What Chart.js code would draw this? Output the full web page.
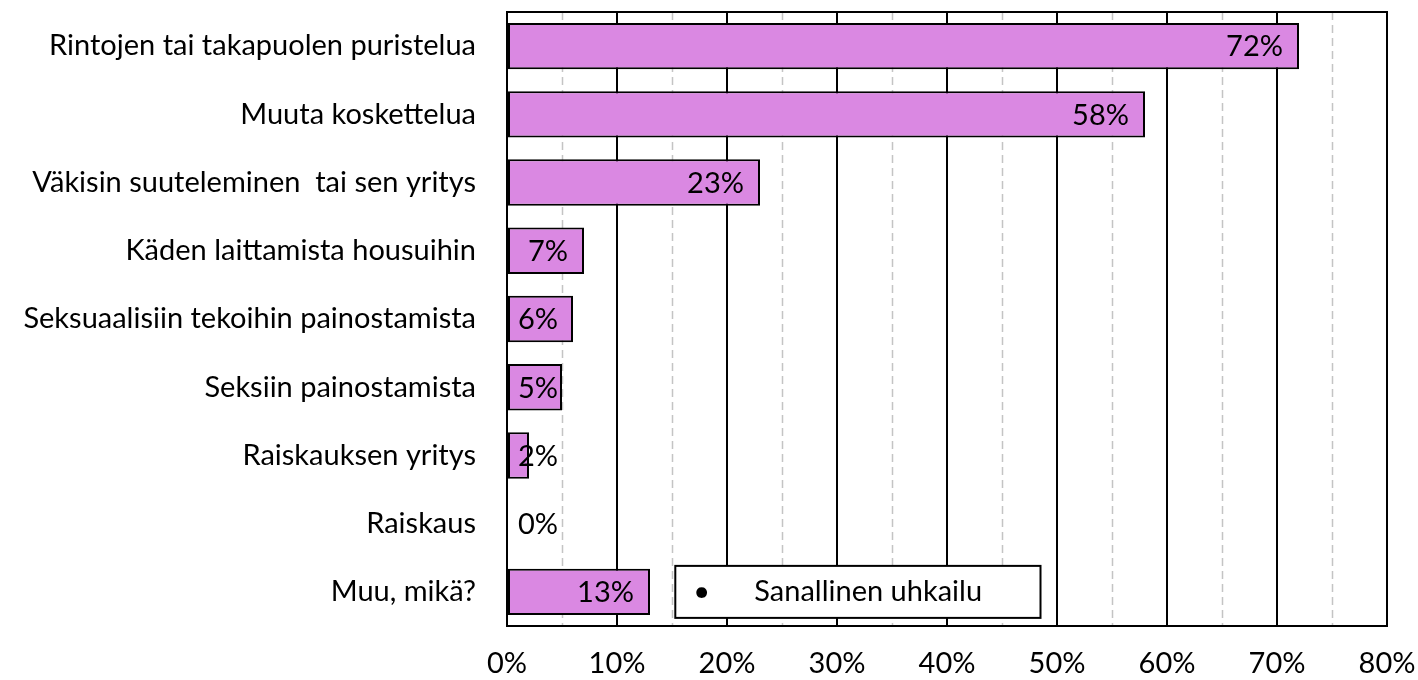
<!DOCTYPE html>
<html>
<head>
<meta charset="utf-8">
<script src="https://cdn.jsdelivr.net/npm/chart.js@4/dist/chart.umd.min.js"></script>
<style>
  html, body { margin: 0; padding: 0; background: #fff; }
  #wrap { width: 1418px; height: 680px; }
</style>
</head>
<body>
<div id="wrap"><canvas id="barChart"></canvas></div>
<script>
// data
const categories = [
    'Rintojen tai takapuolen puristelua',
    'Muuta koskettelua',
    'Väkisin suuteleminen  tai sen yritys',
    'Käden laittamista housuihin',
    'Seksuaalisiin tekoihin painostamista',
    'Seksiin painostamista',
    'Raiskauksen yritys',
    'Raiskaus',
    'Muu, mikä?'
];
const percentValues = [72, 58, 23, 7, 6, 5, 2, 0, 13];
const xTicks = [0, 10, 20, 30, 40, 50, 60, 70, 80];
const minorLines = [5, 15, 25, 35, 45, 55, 65, 75];
const noteText = 'Sanallinen uhkailu';

const FONT = 'Lato, "Open Sans", sans-serif';
const FSIZE = 29;

// dashed minor grid + frame + value labels + note box
const extrasPlugin = {
    id: 'extras',
    beforeDatasetsDraw(chart) {
        const ctx = chart.ctx;
        const x = chart.scales.x;
        const area = chart.chartArea;
        ctx.save();
        ctx.strokeStyle = '#c4c4c4';
        ctx.lineWidth = 1.5;
        ctx.setLineDash([8, 5]);
        minorLines.forEach(v => {
            const px = Math.round(x.getPixelForValue(v)) + 0.5;
            ctx.beginPath();
            ctx.moveTo(px, area.top);
            ctx.lineTo(px, area.bottom);
            ctx.stroke();
        });
        ctx.restore();
    },
    afterDatasetsDraw(chart) {
        const ctx = chart.ctx;
        const x = chart.scales.x;
        const y = chart.scales.y;
        const area = chart.chartArea;
        ctx.save();
        // frame
        ctx.strokeStyle = '#000';
        ctx.lineWidth = 2;
        ctx.strokeRect(area.left, area.top, area.right - area.left, area.bottom - area.top);

        // value labels (inside end, pushed out when the bar is too short)
        ctx.font = FSIZE + 'px ' + FONT;
        ctx.fillStyle = '#000';
        ctx.textAlign = 'right';
        ctx.textBaseline = 'middle';
        const base = x.getPixelForValue(0);
        percentValues.forEach((v, i) => {
            const txt = v + '%';
            const w = ctx.measureText(txt).width;
            const end = x.getPixelForValue(v);
            const tx = Math.max(end - 16, base + 11 + w);
            ctx.fillText(txt, tx, y.getPixelForValue(i) + 1);
        });

        // text box near the last bar
        const last = categories.length - 1;
        const bx1 = x.getPixelForValue(15.3);
        const bx2 = x.getPixelForValue(48.5);
        const cy = y.getPixelForValue(last);
        ctx.fillStyle = '#fff';
        ctx.fillRect(bx1, cy - 26, bx2 - bx1, 52);
        ctx.lineWidth = 2;
        ctx.strokeRect(bx1, cy - 26, bx2 - bx1, 52);
        ctx.fillStyle = '#000';
        ctx.textAlign = 'left';
        ctx.fillText('•', bx1 + 18, cy);
        ctx.fillText(noteText, bx1 + 79, cy);
        ctx.restore();
    }
};

const ctx = document.getElementById('barChart').getContext('2d');
const barChart = new Chart(ctx, {
    type: 'bar',
    data: {
        labels: categories,
        datasets: [{
            data: percentValues,
            backgroundColor: '#DA88E2',
            borderColor: '#000',
            borderWidth: 2,
            borderSkipped: false,
            barPercentage: 0.68,
            categoryPercentage: 1
        }]
    },
    options: {
        indexAxis: 'y',
        responsive: true,
        maintainAspectRatio: false,
        animation: false,
        layout: { padding: { left: 0, right: 31, top: 12, bottom: 0 } },
        scales: {
            x: {
                min: 0,
                max: 80,
                afterBuildTicks: axis => { axis.ticks = xTicks.map(v => ({ value: v })); },
                afterFit: axis => {
                    axis.height = 54;
                    axis.paddingLeft = 0;
                    axis.paddingRight = 0;
                },
                grid: { color: '#000', lineWidth: 2, drawTicks: false },
                border: { color: '#000', width: 2 },
                ticks: {
                    padding: 20,
                    color: '#000',
                    font: { family: FONT, size: FSIZE },
                    callback: v => v + '%'
                }
            },
            y: {
                afterFit: axis => {
                    axis.width = 507;
                    axis.paddingTop = 0;
                    axis.paddingBottom = 0;
                },
                grid: { display: false, drawTicks: false },
                border: { color: '#000', width: 2 },
                ticks: {
                    padding: 31,
                    color: '#000',
                    font: { family: FONT, size: FSIZE }
                }
            }
        },
        plugins: {
            legend: { display: false },
            tooltip: { enabled: false }
        }
    },
    plugins: [extrasPlugin]
});
</script>
</body>
</html>
